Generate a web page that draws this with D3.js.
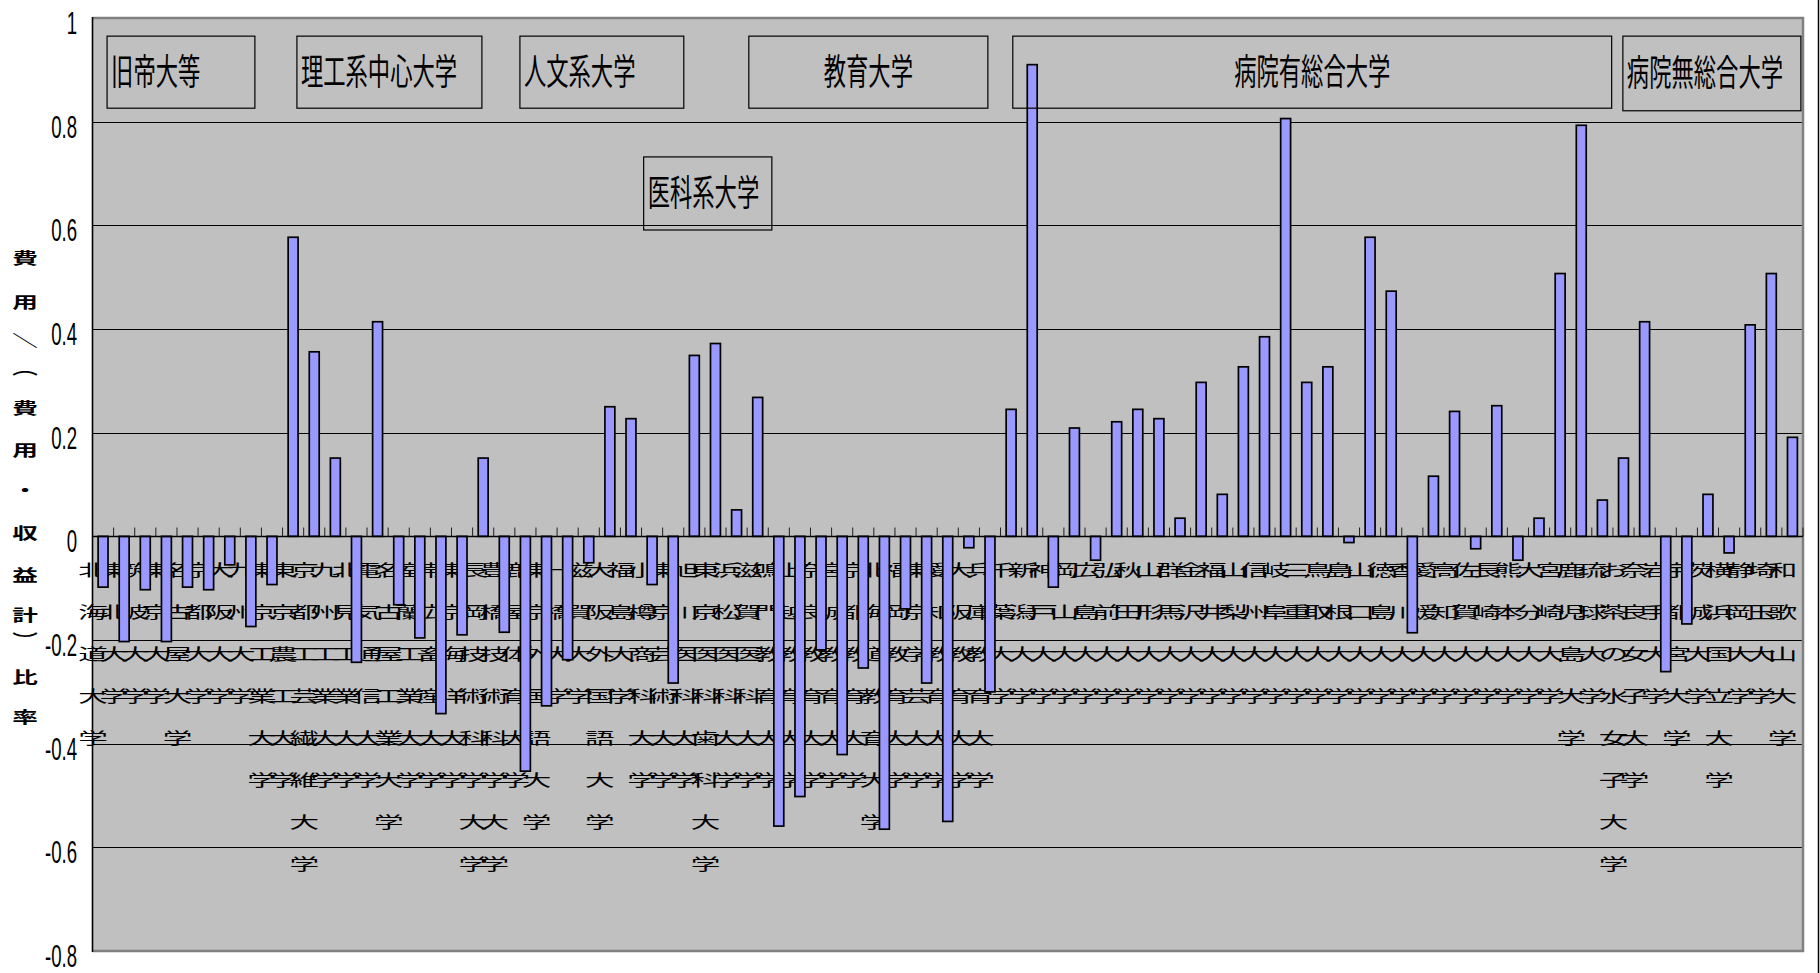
<!DOCTYPE html>
<meta charset="utf-8">
<head>
<style>
  body { margin: 0; background: #ffffff; }
  svg { display: block; }
</style>
<script src="https://cdn.jsdelivr.net/npm/d3@7"></script>
</head>
<body>
<svg id="chart"></svg>
<script>
// university names, in the order of the bars
let universities = [
  "北海道大学", "東北大学", "筑波大学", "東京大学", "名古屋大学", "京都大学", "大阪大学", "九州大学",
  "東京工業大学", "東京農工大学", "京都工芸繊維大学", "九州工業大学", "北見工業大学", "電気通信大学",
  "名古屋工業大学", "室蘭工業大学", "帯広畜産大学", "東京海洋大学", "長岡技術科学大学", "豊橋技術科学大学",
  "鹿屋体育大学",
  "東京外国語大学", "一橋大学", "滋賀大学", "大阪外国語大学", "福島大学", "小樽商科大学", "東京芸術大学",
  "旭川医科大学", "東京医科歯科大学", "浜松医科大学", "滋賀医科大学",
  "鳴門教育大学", "上越教育大学", "奈良教育大学", "宮城教育大学", "京都教育大学", "北海道教育大学",
  "福岡教育大学", "東京学芸大学", "愛知教育大学", "大阪教育大学", "兵庫教育大学",
  "千葉大学", "新潟大学", "神戸大学", "岡山大学", "広島大学", "弘前大学", "秋田大学", "山形大学",
  "群馬大学", "金沢大学", "福井大学", "山梨大学", "信州大学", "岐阜大学", "三重大学", "鳥取大学",
  "島根大学", "山口大学", "徳島大学", "香川大学", "愛媛大学", "高知大学", "佐賀大学", "長崎大学",
  "熊本大学", "大分大学", "宮崎大学", "鹿児島大学", "琉球大学",
  "お茶の水女子大学", "奈良女子大学", "岩手大学", "宇都宮大学", "茨城大学", "横浜国立大学", "静岡大学",
  "埼玉大学", "和歌山大学"
]

// rate
let rates = [
  -0.098, -0.203, -0.103, -0.203, -0.098, -0.103, -0.055, -0.174,
  -0.093, 0.577, 0.356, 0.151, -0.243, 0.414,
  -0.132, -0.196, -0.342, -0.19, 0.151, -0.185,
  -0.453,
  -0.327, -0.238, -0.051, 0.25, 0.227, -0.093, -0.283,
  0.349, 0.372, 0.051, 0.268,
  -0.559, -0.502, -0.219, -0.421, -0.254, -0.565,
  -0.14, -0.283, -0.55, -0.022, -0.30,
  0.245, 0.91, -0.098, 0.209, -0.046, 0.221, 0.245, 0.227,
  0.035, 0.297, 0.081, 0.327, 0.385, 0.806, 0.297, 0.327,
  -0.012, 0.577, 0.473, -0.186, 0.116, 0.241, -0.024, 0.252,
  -0.046, 0.035, 0.507, 0.793, 0.07,
  0.151, 0.414, -0.261, -0.169, 0.081, -0.032, 0.408,
  0.507, 0.191
]

let yTickValues = [1, 0.8, 0.6, 0.4, 0.2, 0, -0.2, -0.4, -0.6, -0.8]
let yTickLabels = ["1", "0.8", "0.6", "0.4", "0.2", "0", "-0.2", "-0.4", "-0.6", "-0.8"]

let groupNames = ["旧帝大等", "理工系中心大学", "人文系大学", "医科系大学", "教育大学", "病院有総合大学", "病院無総合大学"]

let yTitleChars = ["費", "用", "＼", "︵", "費", "用", "・", "収", "益", "計", "︶", "比", "率"]

function getConfig() {
  let width = 1820
  let height = 973
  let plot = { left: 92.5, right: 1803, top: 18, bottom: 951 }
  let container = d3.select("#chart")
    .attr("width", width)
    .attr("height", height)
  return { width, height, plot, container }
}

function getScales(config) {
  let { plot } = config
  let xScale = d3.scaleBand()
    .domain(universities)
    .range([plot.left, plot.right])
    .paddingInner(0.53)
    .paddingOuter(0.265)
  let yScale = d3.scaleLinear()
    .domain([-0.8, 1])
    .range([plot.bottom, plot.top])
  return { xScale, yScale }
}

function drawBackground(config, scales) {
  let { plot, container, height } = config
  let { yScale } = scales

  container.append("rect")
    .attr("x", plot.left)
    .attr("y", plot.top)
    .attr("width", plot.right - plot.left)
    .attr("height", plot.bottom - plot.top)
    .attr("fill", "#c0c0c0")

  // horizontal grid
  container.append("g")
    .selectAll("line")
    .data(yTickValues.filter(v => v < 1 && v > -0.8))
    .enter()
    .append("line")
    .attr("x1", plot.left)
    .attr("x2", plot.right)
    .attr("y1", d => Math.round(yScale(d)) + 0.5)
    .attr("y2", d => Math.round(yScale(d)) + 0.5)
    .attr("stroke", "#000")
    .attr("stroke-width", 1.2)

  // plot border (grey) on top, right, bottom
  container.append("path")
    .attr("d", `M${plot.left},${plot.top}H${plot.right}V${plot.bottom}H${plot.left}`)
    .attr("fill", "none")
    .attr("stroke", "#808080")
    .attr("stroke-width", 2.5)

  // chart area edge at right
  container.append("line")
    .attr("x1", 1818.5).attr("x2", 1818.5)
    .attr("y1", 0).attr("y2", height)
    .attr("stroke", "#000")
    .attr("stroke-width", 1.5)
}

function drawCategoryLabels(config, scales) {
  let { container } = config
  let { xScale } = scales
  let rowStart = 570
  let rowStep = 42

  let cols = container.append("g")
    .selectAll("g")
    .data(universities)
    .enter()
    .append("g")

  cols.selectAll("text")
    .data(d => d.split("").map((c, i) => ({ c, i, name: d })))
    .enter()
    .append("text")
    .attr("transform", d => `translate(${xScale(d.name) + xScale.bandwidth() / 2 - 10},${rowStart + d.i * rowStep + 6}) scale(1.85,1)`)
    .attr("text-anchor", "middle")
    .attr("font-family", "'Noto Sans CJK JP', sans-serif")
    .attr("font-size", 16)
    .attr("fill", "#000")
    .text(d => d.c)
}

function drawBars(config, scales) {
  let { container } = config
  let { xScale, yScale } = scales
  container.append("g")
    .selectAll("rect")
    .data(universities)
    .enter()
    .append("rect")
    .attr("x", d => xScale(d))
    .attr("width", xScale.bandwidth())
    .attr("y", (d, i) => Math.min(yScale(rates[i]), yScale(0)))
    .attr("height", (d, i) => Math.abs(yScale(rates[i]) - yScale(0)))
    .attr("fill", "#9999ff")
    .attr("stroke", "#000")
    .attr("stroke-width", 1.7)
}

function drawAxes(config, scales) {
  let { plot, container } = config
  let { xScale, yScale } = scales
  let y0 = Math.round(yScale(0)) + 0.5

  // category axis with small ticks pointing up
  container.append("line")
    .attr("x1", plot.left).attr("x2", plot.right)
    .attr("y1", y0).attr("y2", y0)
    .attr("stroke", "#000")
    .attr("stroke-width", 1.4)

  container.append("g")
    .selectAll("line")
    .data(d3.range(universities.length + 1))
    .enter()
    .append("line")
    .attr("x1", i => plot.left + i * xScale.step())
    .attr("x2", i => plot.left + i * xScale.step())
    .attr("y1", y0)
    .attr("y2", y0 - 9)
    .attr("stroke", "#202020")
    .attr("stroke-width", 1)

  // value axis
  container.append("line")
    .attr("x1", plot.left).attr("x2", plot.left)
    .attr("y1", plot.top - 1).attr("y2", plot.bottom + 1)
    .attr("stroke", "#000")
    .attr("stroke-width", 1.6)

  container.append("g")
    .selectAll("text")
    .data(yTickValues)
    .enter()
    .append("text")
    .attr("transform", d => `translate(77,${yScale(d) + 16}) scale(0.6,1)`)
    .attr("text-anchor", "end")
    .attr("font-family", "'Liberation Sans', Arial, sans-serif")
    .attr("font-size", 31)
    .attr("fill", "#000")
    .text((d, i) => yTickLabels[i])

  // axis title, stacked characters
  let titleY = [258, 302, 340, 368, 408, 450, 490, 533, 575, 615, 640, 677, 717]
  container.append("g")
    .selectAll("text")
    .data(yTitleChars)
    .enter()
    .append("text")
    .attr("transform", (d, i) => `translate(25,${titleY[i] + 6}) scale(1.6,1)`)
    .attr("text-anchor", "middle")
    .attr("font-family", "'Noto Sans CJK JP', sans-serif")
    .attr("font-size", 16)
    .attr("font-weight", "bold")
    .attr("fill", "#000")
    .text(d => d)
}

function drawGroupBoxes(config, scales) {
  let { container, plot } = config
  let { xScale, yScale } = scales
  let step = xScale.step()
  // box extent in category units (u) and value units (v)
  let boxes = [
    { u0: 0.69, u1: 7.69, v0: 0.965, v1: 0.826, anchor: "start" },
    { u0: 9.68, u1: 18.44, v0: 0.965, v1: 0.826, anchor: "start" },
    { u0: 20.24, u1: 28.0, v0: 0.965, v1: 0.826, anchor: "start" },
    { u0: 26.1, u1: 32.17, v0: 0.732, v1: 0.591, anchor: "start" },
    { u0: 31.08, u1: 42.4, v0: 0.965, v1: 0.826, anchor: "middle" },
    { u0: 43.58, u1: 71.94, v0: 0.965, v1: 0.826, anchor: "middle" },
    { u0: 72.47, u1: 80.9, v0: 0.965, v1: 0.821, anchor: "start" }
  ]

  let g = container.append("g")
    .selectAll("g")
    .data(groupNames)
    .enter()
    .append("g")

  g.append("rect")
    .attr("x", (d, i) => plot.left + boxes[i].u0 * step)
    .attr("y", (d, i) => yScale(boxes[i].v0))
    .attr("width", (d, i) => (boxes[i].u1 - boxes[i].u0) * step)
    .attr("height", (d, i) => yScale(boxes[i].v1) - yScale(boxes[i].v0))
    .attr("fill", "none")
    .attr("stroke", "#000")
    .attr("stroke-width", 1.2)

  g.append("text")
    .attr("transform", (d, i) => {
      let b = boxes[i]
      let x = b.anchor == "start" ? plot.left + b.u0 * step + 4 : plot.left + (b.u0 + b.u1) / 2 * step
      let y = (yScale(b.v0) + yScale(b.v1)) / 2 + 13
      return `translate(${x},${y}) scale(0.62,1)`
    })
    .attr("text-anchor", (d, i) => boxes[i].anchor)
    .attr("font-family", "'Noto Sans CJK JP', sans-serif")
    .attr("font-size", 36)
    .attr("fill", "#000")
    .text(d => d)
}

function showChart() {
  let config = getConfig()
  let scales = getScales(config)
  drawBackground(config, scales)
  drawCategoryLabels(config, scales)
  drawBars(config, scales)
  drawAxes(config, scales)
  drawGroupBoxes(config, scales)
}

showChart()
</script>
</body>
